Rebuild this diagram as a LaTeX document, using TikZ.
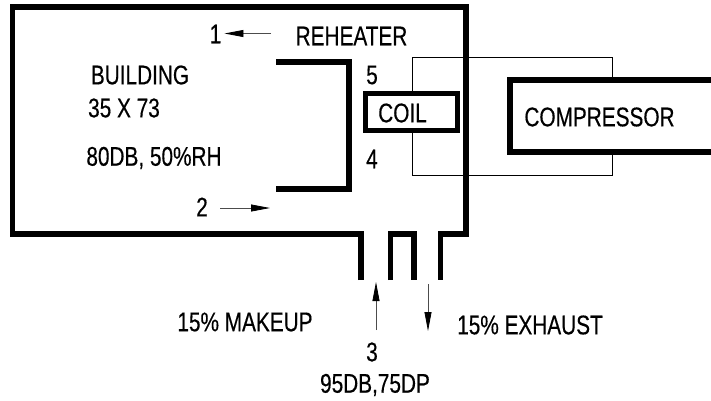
\documentclass[tikz,border=0pt]{standalone}
\usepackage{fontspec}
\setmainfont{Liberation Sans}[FakeStretch=0.77,FakeBold=0.35]
\usetikzlibrary{arrows.meta}
\tikzset{
  wall/.style={line width=5.4pt, line cap=butt, line join=miter},
  pipe/.style={line width=1pt},
  flow/.style={line width=0.8pt, draw=black!70, -{Stealth[length=19pt,width=7pt,inset=0pt,black]}},
  lbl/.style={inner sep=0pt, font=\fontsize{27}{29}\selectfont}
}
\begin{document}
\begin{tikzpicture}[x=1pt,y=-1pt]
\useasboundingbox (0,0) rectangle (711,400);
\node[lbl] (reheater) at (351.5,36) {REHEATER};
\node[lbl] (one) at (215.5,34) {1};
\node[lbl] (building) at (140,75) {BUILDING};
\node[lbl] (size) at (124,108) {35 X 73};
\node[lbl] (indoor) at (154,158) {80DB, 50\%RH};
\node[lbl] (two) at (202,207) {2};
\node[lbl] (five) at (372,75) {5};
\node[lbl] (four) at (372,159) {4};
\node[wall, draw, minimum width=92pt, minimum height=37pt, inner sep=0pt] (coilbox) at (411.5,112) {};
\node[lbl] (coil) at (402.5,113) {COIL};
\node[lbl] (compressor) at (599.5,117) {COMPRESSOR};
\node[lbl] (makeup) at (245,322) {15\% MAKEUP};
\node[lbl] (exhaust) at (530,325) {15\% EXHAUST};
\node[lbl] (three) at (372,352) {3};
\node[lbl] (outdoor) at (375,385) {95DB,75DP};
% refrigerant loop
\coordinate (loopa) at (412,57);
\coordinate (loopb) at (612,57);
\coordinate (loopc) at (412,175);
\coordinate (loopd) at (612,175);
\coordinate (compa) at (711,80);
\coordinate (compb) at (510,80);
\coordinate (compc) at (510,152);
\coordinate (compd) at (711,152);
\draw[pipe] (coilbox.north -| loopa) -- (loopa) -- (loopb) -- (compb -| loopb);
\draw[pipe] (coilbox.south -| loopc) -- (loopc) -- (loopd) -- (compc -| loopd);
\draw[wall] (compa) -- (compb) -- (compc) -- (compd);
% building walls
\draw[wall] (361,280) -- (361,234) -- (12.5,234) -- (12.5,7) -- (466,7) -- (466,234) -- (440.5,234) -- (440.5,280);
\draw[wall] (390.5,280) -- (390.5,234) -- (414,234) -- (414,280);
\draw[wall] (276,62) -- (349,62) -- (349,189) -- (276,189);
% air flows
\coordinate (onetail) at (271,33.5);
\coordinate (twotail) at (220,208);
\coordinate (twohead) at (270,208);
\coordinate (makeuptail) at (376,330);
\coordinate (makeuphead) at (376,282);
\coordinate (exhausttail) at (428,284);
\coordinate (exhausthead) at (428,331);
\draw[flow, shorten >=3pt] (onetail) -- (one.east |- onetail);
\draw[flow] (twotail) -- (twohead);
\draw[flow] (makeuptail) -- (makeuphead);
\draw[flow] (exhausttail) -- (exhausthead);
\end{tikzpicture}
\end{document}
